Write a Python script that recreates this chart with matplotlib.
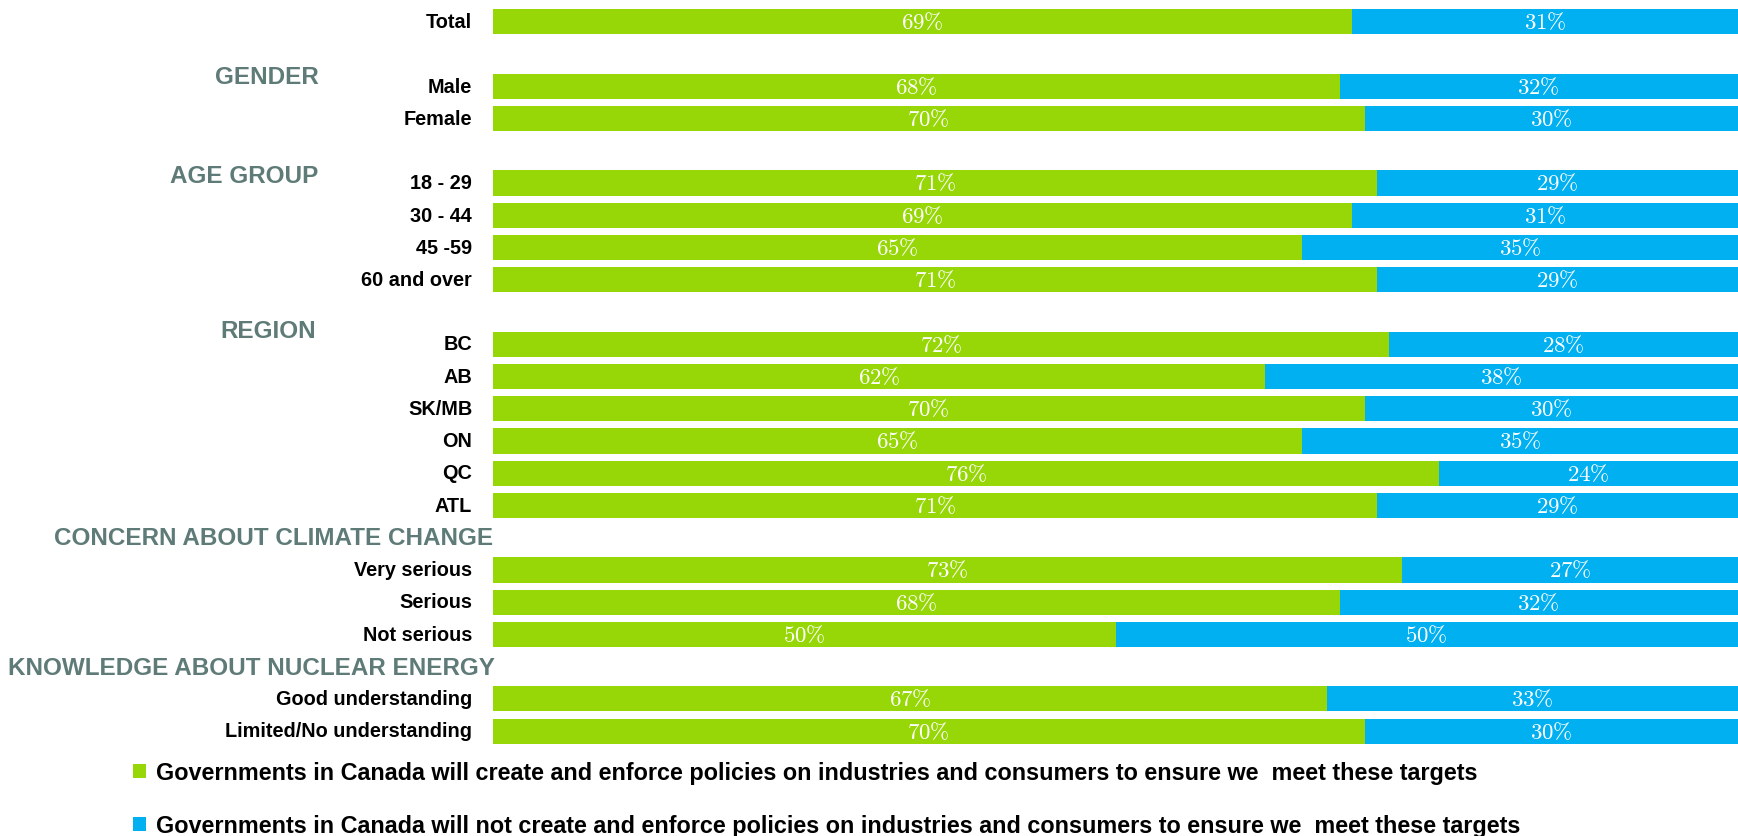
import matplotlib.pyplot as plt
from matplotlib.transforms import blended_transform_factory

plt.rcParams['font.family'] = ['Liberation Sans', 'DejaVu Sans']
plt.rcParams['mathtext.fontset'] = 'cm'

# Rows (slot index leaves blank rows between groups)
categories = ['Total', 'Male', 'Female', '18 - 29', '30 - 44', '45 -59', '60 and over',
              'BC', 'AB', 'SK/MB', 'ON', 'QC', 'ATL',
              'Very serious', 'Serious', 'Not serious',
              'Good understanding', 'Limited/No understanding']
slots = [0, 2, 3, 5, 6, 7, 8, 10, 11, 12, 13, 14, 15, 17, 18, 19, 21, 22]
will_create = [69, 68, 70, 71, 69, 65, 71, 72, 62, 70, 65, 76, 71, 73, 68, 50, 67, 70]
will_not_create = [31, 32, 30, 29, 31, 35, 29, 28, 38, 30, 35, 24, 29, 27, 32, 50, 33, 30]

groups = ['GENDER', 'AGE GROUP', 'REGION', 'CONCERN ABOUT CLIMATE CHANGE',
          'KNOWLEDGE ABOUT NUCLEAR ENERGY']
group_slots = [1.69, 4.76, 9.56, 16.0, 20.03]
group_x = [267, 244, 268, 274, 251]

legend_labels = [
    'Governments in Canada will create and enforce policies on industries and consumers to ensure we  meet these targets',
    'Governments in Canada will not create and enforce policies on industries and consumers to ensure we  meet these targets',
]

green = '#97D708'
blue = '#00B0F0'

W, H = 1738, 837
fig = plt.figure(figsize=(W / 100, H / 100), dpi=100)
ax = fig.add_axes([493 / W, 0.106, 1 - 493 / W, 0.886])

b1 = ax.barh(slots, will_create, height=0.78, color=green, label=legend_labels[0])
b2 = ax.barh(slots, will_not_create, left=will_create, height=0.78, color=blue,
             label=legend_labels[1])

for s, g, b in zip(slots, will_create, will_not_create):
    ax.text(g / 2, s, rf'${g}\%$', color='white', ha='center', va='center', fontsize=16.5)
    ax.text(g + b / 2, s, rf'${b}\%$', color='white', ha='center', va='center', fontsize=16.5)

ax.set_xlim(0, 100)
ax.set_ylim(22.5, -0.5)
ax.set_yticks([s - 0.07 for s in slots])
ax.set_yticklabels(categories, fontsize=14.3, fontweight='bold')
ax.tick_params(axis='y', length=0, pad=15)
ax.set_xticks([])
for sp in ax.spines.values():
    sp.set_visible(False)

tr = blended_transform_factory(fig.transFigure, ax.transData)
for name, s, x in zip(groups, group_slots, group_x):
    ax.text(x / W, s, name, transform=tr, ha='center', va='center',
            fontsize=17.5, fontweight='bold', color='#5F7B78')

fig.legend(handles=[b1, b2], loc='upper left', bbox_to_anchor=(112 / W, 1 - 741 / H),
           frameon=False, handlelength=0.57, handleheight=0.57, handletextpad=0.4,
           labelspacing=1.3, prop={'weight': 'bold', 'size': 16.8})

fig.savefig('out.png', dpi=100)
